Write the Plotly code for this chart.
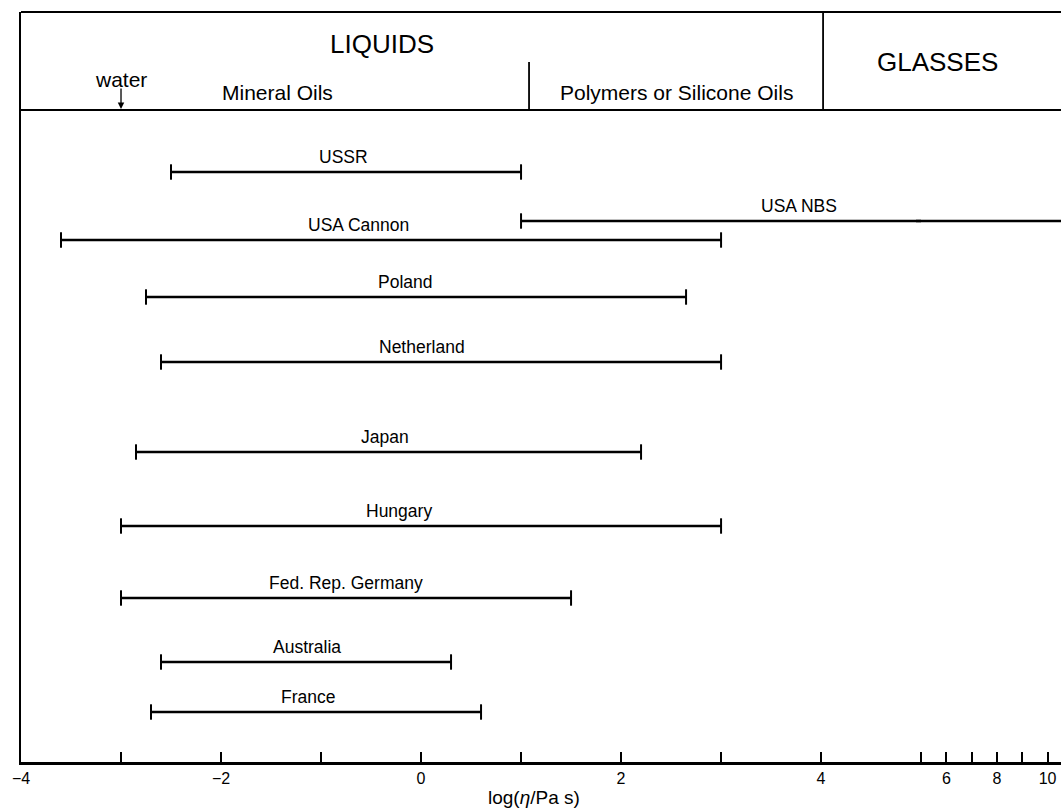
import plotly.graph_objects as go

# ---- data (log10 of viscosity in Pa s) ----
countries = ["USSR", "USA NBS", "USA Cannon", "Poland", "Netherland", "Japan",
             "Hungary", "Fed. Rep. Germany", "Australia", "France"]
log_eta_min = [-2.5, 1.0, -3.6, -2.75, -2.6, -2.85, -3.0, -3.0, -2.6, -2.7]
log_eta_max = [1.0, 11.0, 3.0, 2.65, 3.0, 2.2, 3.0, 1.5, 0.3, 0.6]
water_log_eta = -3.0

tick_vals_lin = [-4, -3, -2, -1, 0, 1, 2, 3, 4]
tick_text_lin = ["\u22124", "", "\u22122", "", "0", "", "2", "", "4"]
tick_vals_cmp = [5, 6, 7, 8, 9, 10]
tick_text_cmp = ["", "6", "", "8", "", "10"]

# ---- layout helpers (positions, not data) ----
row_pos = [16.0, 20.9, 22.8, 28.5, 35.0, 44.0, 51.4, 58.6, 65.0, 70.0]
label_x = [-0.78, 3.78, -0.63, -0.16, 0.01, -0.36, -0.22, -0.75, -1.14, -1.13]
BREAK = 5.0
X2_MIN = 4.8           # small overlap (hidden under axis 1) so the tick at 5 is drawn
X2_MAX = 10.53
CMP = 0.253            # compression of the upper part of the axis
HEADER_BOTTOM = 9.8
SUBDIV_TOP = 5.0
FONT = "Liberation Sans, Arial, Helvetica, sans-serif"

fig = go.Figure()

caps1_x, caps1_y, caps2_x, caps2_y = [], [], [], []
for name, a, b, yy in zip(countries, log_eta_min, log_eta_max, row_pos):
    if a < BREAK:
        fig.add_trace(go.Scatter(x=[a, min(b, BREAK)], y=[yy, yy], mode="lines",
                                 line=dict(color="black", width=2.6),
                                 xaxis="x", yaxis="y", showlegend=False, hoverinfo="skip"))
        caps1_x.append(a); caps1_y.append(yy)
    if b > BREAK:
        fig.add_trace(go.Scatter(x=[max(a, X2_MIN), b], y=[yy, yy], mode="lines",
                                 line=dict(color="black", width=2.6),
                                 xaxis="x2", yaxis="y", showlegend=False, hoverinfo="skip"))
    if b <= BREAK:
        caps1_x.append(b); caps1_y.append(yy)
    elif b <= X2_MAX:
        caps2_x.append(b); caps2_y.append(yy)

cap_marker = dict(symbol="line-ns", size=11, color="black",
                  line=dict(color="black", width=2))
fig.add_trace(go.Scatter(x=caps1_x, y=caps1_y, mode="markers", marker=cap_marker,
                         xaxis="x", yaxis="y", showlegend=False, hoverinfo="skip"))
if caps2_x:
    fig.add_trace(go.Scatter(x=caps2_x, y=caps2_y, mode="markers", marker=cap_marker,
                             xaxis="x2", yaxis="y", showlegend=False, hoverinfo="skip"))

annotations = []
for name, lx, yy in zip(countries, label_x, row_pos):
    annotations.append(dict(x=lx, y=yy, xref="x", yref="y", text=name,
                            showarrow=False, xanchor="center", yanchor="bottom", yshift=3,
                            font=dict(family=FONT, size=17.5, color="black")))

# header texts
annotations += [
    dict(x=-0.39, y=3.2, xref="x", yref="y", text="LIQUIDS", showarrow=False,
         xanchor="center", font=dict(family=FONT, size=26, color="black")),
    dict(x=0.8817, y=5.0, xref="paper", yref="y", text="GLASSES", showarrow=False,
         xanchor="center", font=dict(family=FONT, size=26, color="black")),
    dict(x=-1.44, y=8.0, xref="x", yref="y", text="Mineral Oils", showarrow=False,
         xanchor="center", font=dict(family=FONT, size=21, color="black")),
    dict(x=2.55, y=8.0, xref="x", yref="y", text="Polymers or Silicone Oils", showarrow=False,
         xanchor="center", font=dict(family=FONT, size=21, color="black")),
    dict(x=water_log_eta, y=6.7, xref="x", yref="y", text="water", showarrow=False,
         xanchor="center", font=dict(family=FONT, size=21, color="black")),
    dict(x=water_log_eta, y=HEADER_BOTTOM - 0.1, ax=water_log_eta, ay=7.5,
         xref="x", yref="y", axref="x", ayref="y", text="", showarrow=True,
         arrowhead=2, arrowsize=1, arrowwidth=1.3, arrowcolor="black"),
    dict(x=0.493, y=-0.047, xref="paper", yref="paper",
         text="log(<i>\u03b7</i>/Pa s)", showarrow=False, xanchor="center", yanchor="middle",
         font=dict(family=FONT, size=19, color="black")),
]

line_style = dict(color="black", width=1.8)
shapes = [
    dict(type="line", xref="paper", yref="paper", x0=0, x1=1, y0=1, y1=1, line=line_style),
    dict(type="line", xref="paper", yref="y", x0=0, x1=1, y0=HEADER_BOTTOM, y1=HEADER_BOTTOM,
         line=line_style),
    dict(type="line", xref="x", yref="y", x0=4.02, x1=4.02, y0=0, y1=HEADER_BOTTOM,
         line=line_style),
    dict(type="line", xref="x", yref="y", x0=1.08, x1=1.08, y0=SUBDIV_TOP, y1=HEADER_BOTTOM,
         line=line_style),
]

axis_common = dict(showline=True, linecolor="black", linewidth=2.5, ticks="inside",
                   ticklen=10, tickwidth=2, tickcolor="black", showgrid=False,
                   zeroline=False, tickmode="array",
                   tickfont=dict(family=FONT, size=16, color="black"))

total = (BREAK + 4) + (X2_MAX - BREAK) * CMP
split1 = (BREAK + 4) / total
split2 = split1 - (BREAK - X2_MIN) * CMP / total

fig.update_layout(
    width=1061, height=812,
    margin=dict(l=21, r=0, t=12, b=50, pad=0),
    paper_bgcolor="white", plot_bgcolor="rgba(0,0,0,0)",
    font=dict(family=FONT, color="black"),
    xaxis=dict(domain=[0, split1], range=[-4, BREAK], tickvals=tick_vals_lin,
               ticktext=tick_text_lin, anchor="y", **axis_common),
    xaxis2=dict(domain=[split2, 1], range=[X2_MIN, X2_MAX], tickvals=tick_vals_cmp,
                ticktext=tick_text_cmp, anchor="y", **axis_common),
    yaxis=dict(range=[75, 0], showline=True, linecolor="black", linewidth=2,
               showticklabels=False, ticks="", showgrid=False, zeroline=False),
    annotations=annotations,
    shapes=shapes,
    showlegend=False,
)

# remove the default page margin so the figure fills the window exactly
fig.write_html(
    "out.html",
    config={"displayModeBar": False},
    post_script="document.body.style.margin='0';document.body.style.overflow='hidden';",
)
